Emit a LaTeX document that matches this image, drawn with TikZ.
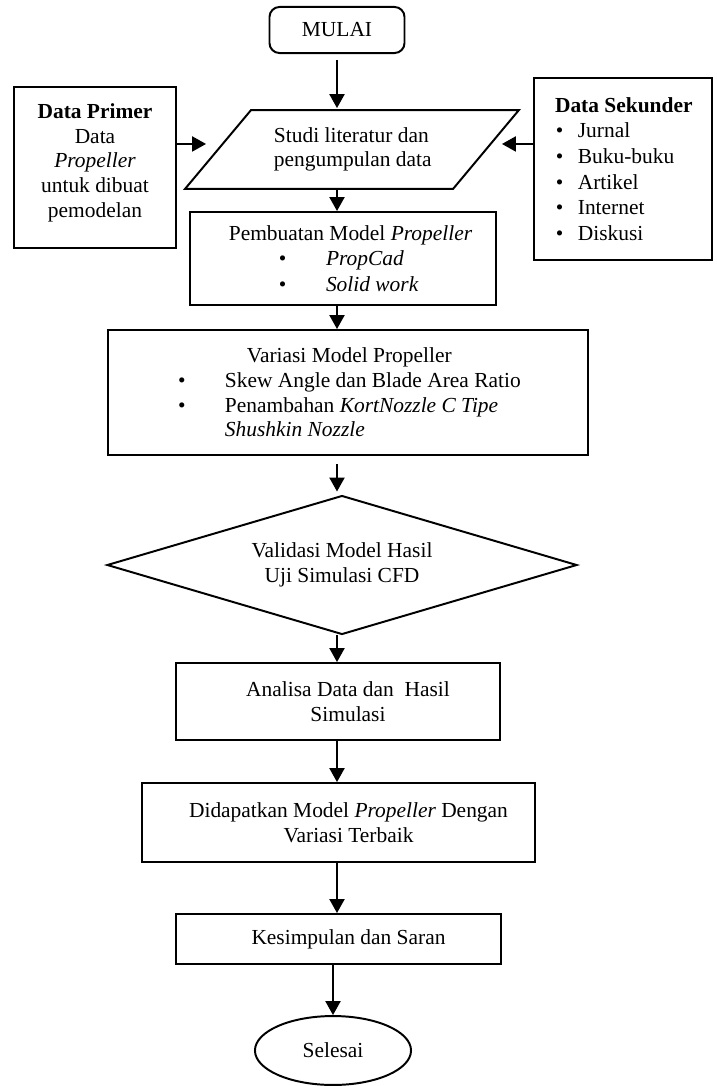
\documentclass[tikz,border=0pt]{standalone}
\usepackage{fontspec}
\setmainfont{Liberation Serif}
\usepackage{tikz}
\usetikzlibrary{positioning,arrows.meta,shapes.geometric,calc}

\begin{document}
\begin{tikzpicture}[
  x=0.56pt, y=-0.56pt, line width=1.1pt,
  >={Triangle[length=7.8pt,width=8.4pt]},
  every node/.style={font=\fontsize{12}{13.8}\selectfont},
  box/.style={draw, rectangle, align=center, inner sep=0pt},
  startbox/.style={draw, rectangle, rounded corners=5.6pt, minimum width=75.6pt, minimum height=25.8pt},
  iobox/.style={rectangle, align=flush left, inner sep=0pt},
  decision/.style={draw, diamond, align=center, inner sep=0pt, shape aspect=3.38},
  stopbox/.style={draw, ellipse, inner sep=0pt}
]
  \useasboundingbox (0,0) rectangle (717,1086);

  \node (mulai) [startbox] at (337,30) {MULAI};

  % input / output
  \node (studi) [iobox, minimum width=164.6pt, minimum height=43.1pt, text width=164.6pt] at (354,149.5) {\hspace*{37.5pt}Studi literatur dan\\\hspace*{37.5pt}pengumpulan data};
  \draw ([xshift=25.2pt]studi.north west) -- ([xshift=9.5pt]studi.north east) -- ([xshift=-27.4pt]studi.south east) -- ([xshift=-11.8pt]studi.south west) -- cycle;

  \node (primer) [box, minimum width=90.7pt, minimum height=90.2pt] at (95,167.5) {\textbf{Data Primer}\\Data\\\textit{Propeller}\\untuk dibuat\\pemodelan\\[-6pt]\mbox{}};

  \node (sekunder) [box, align=flush left, text width=99.7pt, minimum width=99.7pt, minimum height=101.9pt] at (623,169) {
    \hspace*{11.8pt}\textbf{Data Sekunder}\\[0.6pt]
    \hspace*{12.3pt}\makebox[12.3pt][l]{\textbullet}Jurnal\\[0.6pt]
    \hspace*{12.3pt}\makebox[12.3pt][l]{\textbullet}Buku-buku\\[0.6pt]
    \hspace*{12.3pt}\makebox[12.3pt][l]{\textbullet}Artikel\\[0.6pt]
    \hspace*{12.3pt}\makebox[12.3pt][l]{\textbullet}Internet\\[0.6pt]
    \hspace*{12.3pt}\makebox[12.3pt][l]{\textbullet}Diskusi};

  \coordinate (feedl) at ([yshift=3.1pt]studi.west);
  \coordinate (feedr) at ([yshift=3.1pt]studi.east);

  % main column
  \node (pembuatan) [box, align=flush left, text width=171.4pt, minimum width=171.4pt, minimum height=52.1pt] at (343,258.5) {
    \hspace*{21.8pt}Pembuatan Model \textit{Propeller}\\[0.4pt]
    \hspace*{49.8pt}\makebox[26.4pt][l]{\textbullet}\textit{PropCad}\\[0.4pt]
    \hspace*{49.8pt}\makebox[26.4pt][l]{\textbullet}\textit{Solid work}};

  \node (variasi) [box, align=flush left, text width=268.8pt, minimum width=268.8pt, minimum height=70pt] at (348,392.5) {
    \hspace*{77.8pt}Variasi Model Propeller\\
    \hspace*{39.2pt}\makebox[26.3pt][l]{\textbullet}Skew Angle dan Blade Area Ratio\\
    \hspace*{39.2pt}\makebox[26.3pt][l]{\textbullet}Penambahan \textit{KortNozzle C Tipe}\\
    \hspace*{65.5pt}\textit{Shushkin Nozzle}};

  \node (validasi) [decision, minimum width=263.2pt, minimum height=77.8pt] at (342,565) {Validasi Model Hasil\\Uji Simulasi CFD};

  \node (analisa) [box, minimum width=181.4pt, minimum height=43.1pt] at (338,701.5) {\hspace*{11.2pt}Analisa Data dan \ Hasil\\\hspace*{11.2pt}Simulasi};

  \node (didapatkan) [box, minimum width=220.1pt, minimum height=44.2pt] at (338.5,822.5) {\hspace*{11.2pt}Didapatkan Model \textit{Propeller} Dengan\\\hspace*{11.2pt}Variasi Terbaik};

  \node (kesimpulan) [box, minimum width=182pt, minimum height=28pt] at (338.5,939) {\hspace*{11.2pt}Kesimpulan dan Saran};

  \node (selesai) [stopbox, minimum width=87.4pt, minimum height=38.6pt] at (333,1050.5) {Selesai};

  % connectors
  \draw[->, shorten <=3.4pt, shorten >=1.1pt] (mulai) -- (mulai |- studi.north);
  \draw[->] (primer.east |- feedl) -- (feedl);
  \draw[->] (sekunder.west |- feedr) -- (feedr);
  \draw[->] (studi.south -| mulai) -- (pembuatan.north -| mulai);
  \draw[->] (pembuatan.south -| mulai) -- (variasi.north -| mulai);
  \draw[->, shorten <=4.5pt, shorten >=1.7pt] (variasi.south -| mulai) -- (validasi.north -| mulai);
  \draw[->] (validasi.south -| mulai) -- (analisa.north -| mulai);
  \draw[->] (analisa.south -| mulai) -- (didapatkan.north -| mulai);
  \draw[->] (didapatkan.south -| mulai) -- (kesimpulan.north -| mulai);
  \draw[->] (kesimpulan.south -| selesai.north) -- (selesai.north);
\end{tikzpicture}
\end{document}
